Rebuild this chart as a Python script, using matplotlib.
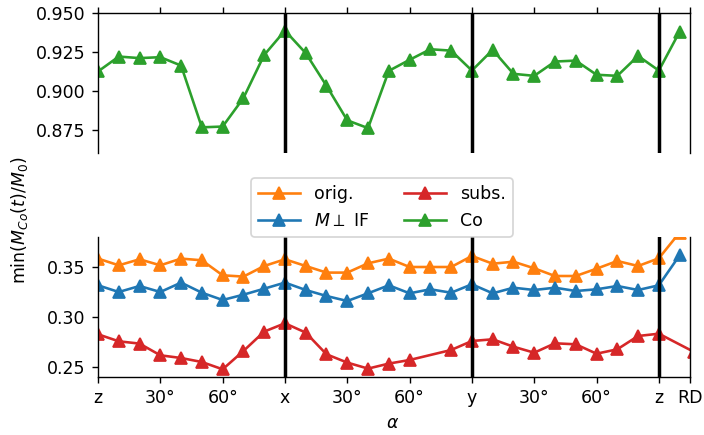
import numpy as np
import matplotlib
matplotlib.use("Agg")
import matplotlib.pyplot as plt

# angle positions (deg along path z -> x -> y -> z), RD extra point
angles = list(range(0, 280, 10))
rd_pos = 280
rd_pos_subs = 287

co = [0.9124, 0.922, 0.921, 0.9216, 0.9162, 0.8765, 0.877, 0.8953, 0.923, 0.9387,
      0.9242, 0.9032, 0.881, 0.876, 0.9128, 0.9199, 0.9267, 0.9258, 0.913, 0.9263,
      0.9109, 0.9096, 0.9188, 0.9194, 0.9103, 0.9096, 0.9224, 0.913]
co_rd = 0.938

orig = [0.3584, 0.3517, 0.3577, 0.3517, 0.3584, 0.3567, 0.3417, 0.3404, 0.351, 0.3577,
        0.351, 0.3444, 0.3444, 0.3537, 0.3584, 0.35, 0.35, 0.35, 0.361, 0.3533,
        0.3553, 0.3487, 0.341, 0.341, 0.3483, 0.356, 0.351, 0.3587]
orig_rd = 0.3845

perp = [0.3317, 0.325, 0.331, 0.325, 0.3344, 0.3243, 0.317, 0.3223, 0.3283, 0.3344,
        0.327, 0.321, 0.316, 0.3237, 0.3317, 0.3237, 0.3277, 0.3243, 0.3327, 0.3237,
        0.3293, 0.327, 0.3293, 0.326, 0.3277, 0.331, 0.327, 0.3317]
perp_rd = 0.3617

# subs. has no value at 160
subs_angles = [a for a in angles if a != 160]
subs = [0.2827, 0.2757, 0.2734, 0.2617, 0.259, 0.255, 0.2477, 0.266, 0.2854, 0.2937,
        0.2844, 0.2627, 0.2544, 0.2484, 0.2534, 0.257, 0.267, 0.276, 0.2777,
        0.2703, 0.2643, 0.2737, 0.2727, 0.2633, 0.2677, 0.281, 0.2833]
subs_rd = 0.265

tick_pos = [0, 30, 60, 90, 120, 150, 180, 210, 240, 270, 285]
tick_labels = ["z", "30°", "60°", "x", "30°", "60°", "y", "30°", "60°", "z", "RD"]
vlines = [90, 180, 270]

c_orig, c_perp, c_subs, c_co = "#ff7f0e", "#1f77b4", "#d62728", "#2ca02c"

W, H = 704, 435
fig = plt.figure(figsize=(W / 125, H / 125), dpi=125)

def fx(px):
    return px / W

def fy(py):
    return 1 - py / H

L, R = 98, 690
ax_top = fig.add_axes([fx(L), fy(153), fx(R) - fx(L), fy(13) - fy(153)])
ax_bot = fig.add_axes([fx(L), fy(377), fx(R) - fx(L), fy(237) - fy(377)])

kw = dict(marker="^", markersize=6.5, linewidth=1.5)
ax_top.plot(angles + [rd_pos], co + [co_rd], color=c_co, **kw)

l1, = ax_bot.plot(angles + [rd_pos], orig + [orig_rd], color=c_orig, label="orig.", **kw)
l2, = ax_bot.plot(angles + [rd_pos], perp + [perp_rd], color=c_perp, label=r"$M\perp$ IF", **kw)
l3, = ax_bot.plot(subs_angles + [rd_pos_subs], subs + [subs_rd], color=c_subs, label="subs.", **kw)
l4, = ax_bot.plot([], [], color=c_co, label="Co", **kw)

for ax in (ax_top, ax_bot):
    for v in vlines:
        ax.axvline(v, color="black", linewidth=2)
    ax.set_xlim(0, 285)
    ax.set_xticks(tick_pos)

ax_top.set_ylim(0.86, 0.95)
ax_top.set_yticks([0.875, 0.900, 0.925, 0.950])
ax_top.spines["bottom"].set_visible(False)
ax_top.xaxis.tick_top()
ax_top.tick_params(axis="x", labeltop=False)

ax_bot.set_ylim(0.24, 0.38)
ax_bot.set_yticks([0.25, 0.30, 0.35])
ax_bot.spines["top"].set_visible(False)
ax_bot.xaxis.tick_bottom()
ax_bot.set_xticklabels(tick_labels)

for ax in (ax_top, ax_bot):
    ax.tick_params(labelsize=10)

fig.text(fx(393), fy(423), r"$\alpha$", ha="center", va="center", fontsize=10)
fig.text(fx(20), fy(220), r"$\min(M_{Co}(t)/M_0)$", ha="center", va="center",
         rotation=90, fontsize=10)

fig.legend(handles=[l1, l2, l3, l4], ncol=2, loc="center",
           bbox_to_anchor=(fx(382), fy(207.5)), fontsize=10, handlelength=2.4)

fig.savefig("out.png", dpi=125)
